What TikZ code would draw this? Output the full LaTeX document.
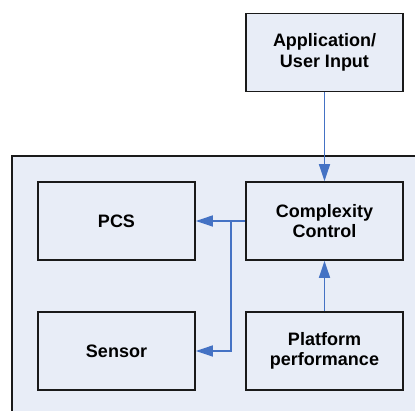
\documentclass[tikz,border=0pt]{standalone}
\usepackage{fontspec}
\setmainfont{Liberation Sans}
\usetikzlibrary{arrows.meta}
\definecolor{panelfill}{HTML}{E8EDF7}
\definecolor{boxfill}{HTML}{E8EDF7}
\definecolor{linkblue}{HTML}{4472C4}
\definecolor{edge}{HTML}{1A1A1A}
\begin{document}
\begin{tikzpicture}[x=1pt,y=-1pt,
  block/.style={draw=edge, line width=1.6pt, fill=boxfill, minimum width=157pt,
    minimum height=78pt, inner sep=0pt, align=center,
    font=\fontsize{18}{20.5}\selectfont\bfseries},
  link/.style={draw=linkblue, line width=1.4pt,
    -{Triangle[length=17pt,width=11pt]}}]
\useasboundingbox (0,0) rectangle (415,411);
% outer panel (runs past the right and bottom edges)
\path[draw=edge, line width=1.2pt, fill=panelfill] (12,156) rectangle (430,430);
\node[block] (app) at (324.5,52.5) {Application/\\User Input};
\node[block] (cc)  at (324.5,221) {Complexity\\Control};
\node[block] (pcs) at (116.5,221) {PCS};
\node[block] (sen) at (116.5,351) {Sensor};
\node[block] (pp)  at (324.5,351) {Platform\\performance};
\coordinate (fork) at (231,221);
\draw[link] (app) -- (cc);
\draw[link] (pp) -- (cc);
\draw[link] (cc.west) -- (pcs.east);
\draw[link] (fork) |- (sen.east);
\end{tikzpicture}
\end{document}
